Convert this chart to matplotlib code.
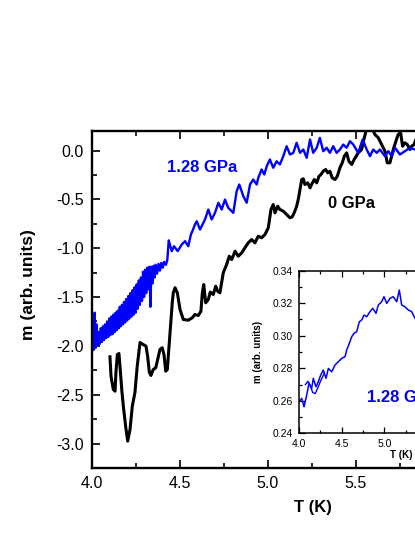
import matplotlib
matplotlib.use("Agg")
import matplotlib.pyplot as plt
from matplotlib.ticker import MultipleLocator, FormatStrFormatter

plt.rcParams["font.family"] = ["Liberation Sans", "DejaVu Sans"]

# ------------------------------------------------------------
# Data (main panel: m vs T)
# ------------------------------------------------------------

# 0 GPa (black)
T_0gpa = [4.102, 4.108, 4.121, 4.131, 4.136, 4.144, 4.153, 4.159, 4.169, 4.178,
          4.191, 4.203, 4.216, 4.229, 4.244, 4.257, 4.273, 4.291, 4.307, 4.316,
          4.326, 4.335, 4.348, 4.362, 4.371, 4.386, 4.399, 4.409, 4.419, 4.428,
          4.438, 4.449, 4.456, 4.462, 4.472, 4.485, 4.500, 4.519, 4.547, 4.570,
          4.585, 4.604, 4.619, 4.627, 4.635, 4.646, 4.661, 4.672, 4.689, 4.703,
          4.714, 4.727, 4.746, 4.765, 4.780, 4.794, 4.813, 4.831, 4.851, 4.869,
          4.888, 4.907, 4.926, 4.945, 4.964, 4.983, 5.002, 5.017, 5.030, 5.040,
          5.055, 5.068, 5.087, 5.106, 5.125, 5.138, 5.149, 5.163, 5.172, 5.182,
          5.192, 5.201, 5.210, 5.226, 5.239, 5.248, 5.263, 5.277, 5.290, 5.301,
          5.314, 5.328, 5.339, 5.352, 5.365, 5.381, 5.394, 5.409, 5.422, 5.434,
          5.447, 5.460, 5.476, 5.490, 5.513, 5.532, 5.545, 5.557, 5.570, 5.589,
          5.608, 5.627, 5.646, 5.665, 5.678, 5.693, 5.703, 5.712, 5.727, 5.740,
          5.754, 5.765, 5.778, 5.792, 5.807, 5.816, 5.830, 5.841]
m_0gpa = [-2.112, -2.310, -2.446, -2.464, -2.272, -2.088, -2.078, -2.208, -2.446, -2.617,
          -2.822, -2.975, -2.856, -2.617, -2.477, -2.208, -1.965, -1.986, -2.003, -2.105,
          -2.272, -2.303, -2.242, -2.224, -2.157, -2.037, -2.019, -2.088, -2.259, -2.242,
          -2.003, -1.730, -1.559, -1.457, -1.405, -1.457, -1.627, -1.730, -1.737, -1.712,
          -1.679, -1.689, -1.645, -1.457, -1.372, -1.559, -1.525, -1.450, -1.474, -1.389,
          -1.440, -1.457, -1.252, -1.167, -1.082, -1.116, -1.031, -1.082, -1.047, -0.996,
          -0.945, -0.911, -0.945, -0.877, -0.894, -0.860, -0.791, -0.604, -0.553, -0.638,
          -0.570, -0.604, -0.621, -0.655, -0.689, -0.679, -0.638, -0.570, -0.502, -0.399,
          -0.297, -0.290, -0.348, -0.331, -0.382, -0.348, -0.297, -0.331, -0.263, -0.246,
          -0.212, -0.194, -0.228, -0.212, -0.279, -0.297, -0.263, -0.177, -0.126, -0.058,
          -0.024, -0.110, -0.143, -0.092, -0.024, 0.010, 0.113, 0.198, 0.235, 0.235,
          0.164, 0.130, 0.061, -0.007, -0.126, -0.126, -0.058, 0.010, 0.095, 0.164,
          0.181, 0.044, 0.079, 0.061, 0.010, 0.044, 0.061, 0.113]

# 1.28 GPa (blue)
T_128gpa = [4.000, 4.005, 4.010, 4.015, 4.020, 4.026, 4.032, 4.038, 4.044, 4.050,
            4.056, 4.062, 4.068, 4.074, 4.080, 4.086, 4.092, 4.098, 4.104, 4.110,
            4.116, 4.122, 4.128, 4.134, 4.140, 4.146, 4.152, 4.158, 4.164, 4.170,
            4.176, 4.182, 4.188, 4.194, 4.200, 4.206, 4.212, 4.218, 4.224, 4.230,
            4.236, 4.242, 4.248, 4.254, 4.260, 4.266, 4.272, 4.278, 4.284, 4.290,
            4.296, 4.302, 4.308, 4.314, 4.320, 4.326, 4.332, 4.338, 4.344, 4.350,
            4.356, 4.362, 4.370, 4.378, 4.386, 4.394, 4.402, 4.410, 4.420, 4.428,
            4.436, 4.445, 4.453, 4.466, 4.487, 4.510, 4.529, 4.547, 4.562, 4.574,
            4.585, 4.595, 4.614, 4.642, 4.661, 4.680, 4.699, 4.718, 4.737, 4.756,
            4.774, 4.803, 4.822, 4.837, 4.860, 4.879, 4.898, 4.916, 4.936, 4.945,
            4.964, 4.979, 4.993, 5.011, 5.030, 5.049, 5.068, 5.087, 5.106, 5.125,
            5.144, 5.163, 5.182, 5.201, 5.220, 5.239, 5.257, 5.277, 5.295, 5.314,
            5.334, 5.352, 5.371, 5.390, 5.409, 5.428, 5.447, 5.466, 5.485, 5.513,
            5.538, 5.561, 5.580, 5.598, 5.618, 5.636, 5.665, 5.684, 5.703, 5.722,
            5.750, 5.778, 5.807, 5.835]
m_128gpa = [-2.05, -1.90, -2.04, -1.66, -2.02, -1.78, -1.99, -1.86, -1.98, -1.82,
            -1.96, -1.80, -1.94, -1.78, -1.92, -1.75, -1.91, -1.72, -1.89, -1.70,
            -1.88, -1.68, -1.86, -1.66, -1.84, -1.64, -1.82, -1.60, -1.80, -1.58,
            -1.78, -1.55, -1.76, -1.52, -1.74, -1.49, -1.72, -1.46, -1.70, -1.43,
            -1.68, -1.40, -1.66, -1.37, -1.62, -1.33, -1.58, -1.30, -1.54, -1.24,
            -1.50, -1.22, -1.46, -1.20, -1.42, -1.19, -1.60, -1.19, -1.36, -1.18,
            -1.30, -1.17, -1.26, -1.16, -1.23, -1.15, -1.20, -1.14, -1.17, -1.12,
            -0.92, -0.98, -1.03, -0.98, -1.03, -0.962, -0.928, -0.980, -0.860, -0.810,
            -0.757, -0.724, -0.809, -0.706, -0.604, -0.706, -0.638, -0.535, -0.604, -0.502,
            -0.586, -0.638, -0.417, -0.348, -0.468, -0.535, -0.348, -0.297, -0.348, -0.279,
            -0.194, -0.246, -0.161, -0.092, -0.177, -0.110, -0.143, -0.058, 0.044, -0.041,
            -0.024, 0.079, -0.024, 0.010, -0.075, 0.113, -0.024, 0.028, 0.130, -0.007,
            0.028, -0.024, 0.044, -0.024, 0.010, 0.061, 0.028, 0.095, 0.061, -0.024,
            0.113, 0.010, -0.058, 0.010, -0.024, 0.010, -0.058, -0.007, -0.058, 0.028,
            -0.041, -0.007, 0.028, 0.010]

# inset: 1.28 GPa, warming branch and the small return loop
T_inset = [4.006, 4.037, 4.064, 4.095, 4.122, 4.153, 4.172, 4.203, 4.230, 4.258,
           4.288, 4.320, 4.347, 4.386, 4.424, 4.463, 4.502, 4.541, 4.560, 4.591,
           4.619, 4.645, 4.677, 4.707, 4.735, 4.762, 4.793, 4.831, 4.863, 4.901,
           4.928, 4.967, 4.994, 5.026, 5.064, 5.102, 5.142, 5.172, 5.200, 5.238,
           5.277, 5.316, 5.355]
m_inset = [0.2594, 0.2615, 0.2563, 0.2635, 0.2707, 0.2676, 0.2738, 0.2686, 0.2717, 0.2758,
           0.2789, 0.2738, 0.2799, 0.2778, 0.2820, 0.2840, 0.2861, 0.2871, 0.2912, 0.2953,
           0.2994, 0.3015, 0.3025, 0.3086, 0.3097, 0.3127, 0.3117, 0.3148, 0.3169, 0.3138,
           0.3189, 0.3209, 0.3240, 0.3199, 0.3230, 0.3240, 0.3209, 0.3281, 0.3189, 0.3178,
           0.3158, 0.3148, 0.3107]
T_inset_loop = [4.300, 4.260, 4.225, 4.195, 4.165, 4.140, 4.110, 4.080]
m_inset_loop = [0.2770, 0.2725, 0.2680, 0.2645, 0.2650, 0.2690, 0.2720, 0.2700]

# tick labels that fall inside the visible crop
main_xticks = [4.0, 4.5, 5.0, 5.5]
inset_xticks = [4.0, 4.5, 5.0]

# ------------------------------------------------------------
# Figure (axes run past the right edge, as in the reference crop)
# ------------------------------------------------------------

fig = plt.figure(figsize=(4.15, 5.37), dpi=100)
ax = fig.add_axes([0.2217, 0.1285, 1.060, 0.6276])

ax.plot(T_0gpa, m_0gpa, color="black", lw=2.2)
ax.plot(T_128gpa, m_128gpa, color="#0000ff", lw=1.7)

ax.set_xlim(4.0, 6.5)
ax.set_ylim(-3.25, 0.2)
ax.set_xticks(main_xticks)
ax.xaxis.set_minor_locator(MultipleLocator(0.25))
ax.yaxis.set_major_locator(MultipleLocator(0.5))
ax.yaxis.set_minor_locator(MultipleLocator(0.25))
ax.xaxis.set_major_formatter(FormatStrFormatter("%.1f"))
ax.yaxis.set_major_formatter(FormatStrFormatter("%.1f"))
ax.tick_params(which="both", direction="in", top=True, right=True, width=1.2)
ax.tick_params(which="major", length=6, labelsize=11.5, pad=6)
ax.tick_params(which="minor", length=3.5)
for sp in ax.spines.values():
    sp.set_linewidth(1.7)

ax.set_xlabel("T (K)", fontsize=12, fontweight="bold")
ax.set_ylabel("m (arb. units)", fontsize=12.5, fontweight="bold")
ax.xaxis.set_label_coords(0.502, -0.095)
ax.yaxis.set_label_coords(-0.128, 0.543)

ax.text(4.426, -0.215, "1.28 GPa", color="#0000ff", fontsize=12, fontweight="bold", va="baseline")
ax.text(5.341, -0.589, "0 GPa", color="black", fontsize=12, fontweight="bold", va="baseline")

# inset
axi = fig.add_axes([0.7193, 0.1931, 0.518, 0.3028])
axi.set_facecolor("white")
axi.plot(T_inset, m_inset, color="#0000ff", lw=1.1)
axi.plot(T_inset_loop, m_inset_loop, color="#0000ff", lw=1.0)

axi.set_xlim(4.0, 6.5)
axi.set_ylim(0.24, 0.34)
axi.set_xticks(inset_xticks)
axi.xaxis.set_minor_locator(MultipleLocator(0.25))
axi.yaxis.set_major_locator(MultipleLocator(0.02))
axi.yaxis.set_minor_locator(MultipleLocator(0.01))
axi.xaxis.set_major_formatter(FormatStrFormatter("%.1f"))
axi.yaxis.set_major_formatter(FormatStrFormatter("%.2f"))
axi.tick_params(which="both", direction="in", top=True, right=True, width=0.9)
axi.tick_params(which="major", length=4, labelsize=7.5, pad=4)
axi.tick_params(which="minor", length=2.2)
for sp in axi.spines.values():
    sp.set_linewidth(1.1)

axi.set_xlabel("T (K)", fontsize=7, fontweight="bold")
axi.set_ylabel("m (arb. units)", fontsize=7, fontweight="bold")
axi.xaxis.set_label_coords(0.48, -0.1)
axi.yaxis.set_label_coords(-0.165, 0.5)

axi.text(4.797, 0.2594, "1.28 GPa", color="#0000ff", fontsize=12, fontweight="bold", va="baseline")

plt.savefig("out.png", dpi=100)
plt.close()
